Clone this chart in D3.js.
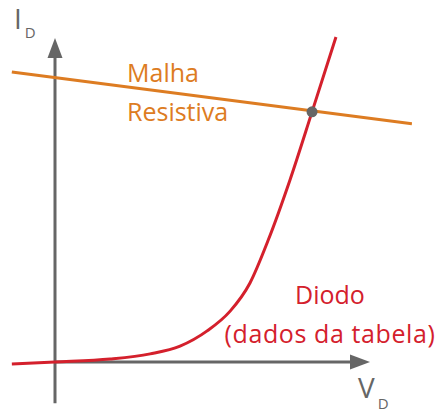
<!DOCTYPE html>
<html><head><meta charset="utf-8">
<script src="https://cdn.jsdelivr.net/npm/d3@7"></script>
<style>body{margin:0;background:#fff}svg{display:block}text{font-family:"Open Sans",Lato,sans-serif;font-weight:400}</style>
</head><body>
<script>
// Diode curve (V_D, I_D), arbitrary units
const diodeV = [-1.37, 0, 1.75, 3.02, 3.97, 4.83, 5.56, 6.19, 6.76, 7.46, 8.16, 8.92];
const diodeI = [-0.06, 0, 0.09, 0.25, 0.49, 0.96, 1.57, 2.44, 3.74, 5.62, 7.72, 10.03];
// Load line (malha resistiva)
const loadV = [-1.37, 11.33];
const loadI = [8.95, 7.35];
// Operating point
const qV = [8.16];
const qI = [7.72];
const labels = ["Malha", "Resistiva", "Diodo", "(dados da tabela)"];

const W = 444, H = 414;
const svg = d3.select("body").append("svg").attr("width", W).attr("height", H);
const x = d3.scaleLinear().domain([0, 10]).range([55, 370]);
const y = d3.scaleLinear().domain([0, 10]).range([362, 38]);
const line = d3.line().x(d => x(d[0])).y(d => y(d[1]));
const grey = "#666666", orange = "#dd7c22", red = "#d4202c";

// axes
svg.append("path").attr("d", line([[0, -1.27], [0, 9.4]])).attr("stroke", grey).attr("stroke-width", 3).attr("fill", "none");
svg.append("path").attr("d", line([[0, 0], [9.4, 0]])).attr("stroke", grey).attr("stroke-width", 3).attr("fill", "none");
// arrowheads
const ah = 20, aw = 7.5;
svg.append("path").attr("fill", grey)
  .attr("d", `M${x(0)},${y(10)} L${x(0)-aw},${y(10)+ah} L${x(0)+aw},${y(10)+ah} Z`);
svg.append("path").attr("fill", grey)
  .attr("d", `M${x(10)},${y(0)} L${x(10)-ah},${y(0)-aw} L${x(10)-ah},${y(0)+aw} Z`);

// load line
svg.append("path").attr("d", line(loadV.map((v, i) => [v, loadI[i]])))
  .attr("stroke", orange).attr("stroke-width", 3).attr("fill", "none");
// diode curve
svg.append("path").attr("d", d3.line().x(d => x(d[0])).y(d => y(d[1])).curve(d3.curveMonotoneX)(diodeV.map((v, i) => [v, diodeI[i]])))
  .attr("stroke", red).attr("stroke-width", 3).attr("fill", "none");
// Q point
svg.selectAll("circle.q").data(qV).enter().append("circle")
  .attr("cx", (d) => x(d)).attr("cy", (d, i) => y(qI[i])).attr("r", 5.5).attr("fill", grey);

// texts
svg.append("text").attr("x", 127).attr("y", 82).attr("font-size", 25).attr("fill", orange).text(labels[0]);
svg.append("text").attr("x", 127).attr("y", 121).attr("font-size", 25).attr("fill", orange).text(labels[1]);
svg.append("text").attr("x", 330).attr("y", 304).attr("font-size", 25).attr("fill", red).attr("text-anchor", "middle").text(labels[2]);
svg.append("text").attr("x", 330).attr("y", 343).attr("font-size", 25).attr("letter-spacing", 0.6).attr("fill", red).attr("text-anchor", "middle").text(labels[3]);

// axis labels
const iL = svg.append("text").attr("x", 14).attr("y", 29).attr("font-size", 28).attr("fill", grey).attr("font-weight", 300);
iL.append("tspan").text("I");
iL.append("tspan").attr("dx", 3).attr("dy", 9).attr("font-size", 15).text("D");
const vL = svg.append("text").attr("x", 358).attr("y", 398).attr("font-size", 28).attr("fill", grey).attr("font-weight", 300);
vL.append("tspan").text("V");
vL.append("tspan").attr("dx", 3).attr("dy", 11).attr("font-size", 15).text("D");
</script>
</body></html>
